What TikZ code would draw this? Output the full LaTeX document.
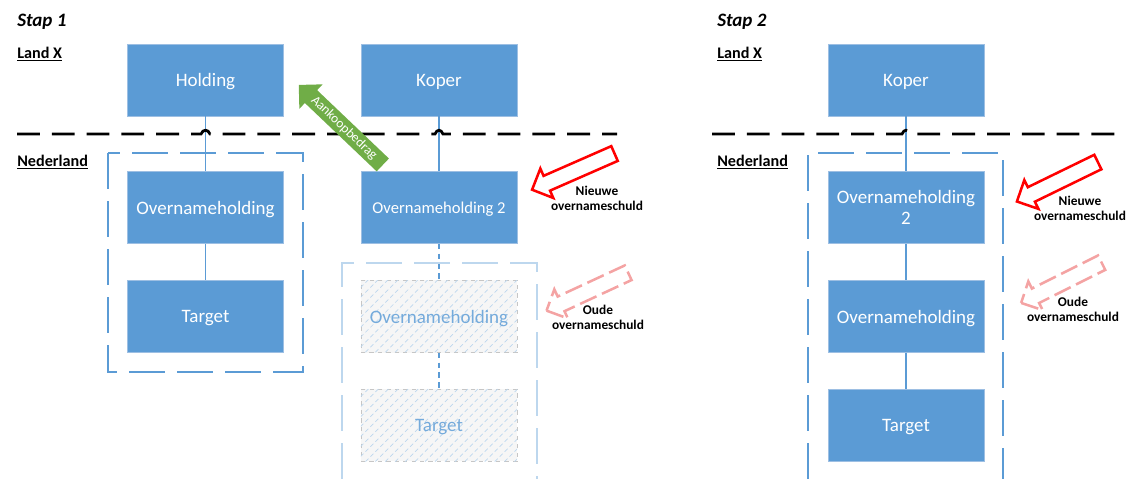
\documentclass[tikz,border=0pt]{standalone}
\usepackage{fontspec}
\setmainfont{Carlito}
\usetikzlibrary{shapes.arrows,patterns.meta}

\definecolor{boxblue}{HTML}{5B9BD5}
\definecolor{boxedge}{HTML}{9DBFE3}
\definecolor{paleblue}{HTML}{BDD7EE}
\definecolor{paygreen}{HTML}{70AD47}
\definecolor{debtred}{HTML}{FF0000}
\definecolor{oldred}{HTML}{F4A3A3}

\tikzset{
  box/.style={draw=boxedge, fill=boxblue, text=white, align=center,
    minimum width=3.9cm, minimum height=1.8cm, inner sep=2pt, text depth=0pt,
    font=\fontsize{13.5}{14.5}\selectfont},
  oldbox/.style={box, draw=gray!45, dashed, fill=gray!7, text=boxblue!85,
    postaction={pattern={Lines[angle=45,distance=5pt,line width=0.5pt]},
      pattern color=paleblue}},
  link/.style={boxblue, line width=0.9pt},
  oldlink/.style={boxblue, line width=0.9pt, dash pattern=on 4pt off 3pt},
  border/.style={black, line width=2pt, dash pattern=on 0.57cm off 0.3cm},
  frame/.style={boxblue, line width=1.5pt, dash pattern=on 0.9cm off 0.3cm},
  oldframe/.style={paleblue, line width=1.5pt, dash pattern=on 0.9cm off 0.3cm},
  heading/.style={anchor=west, inner sep=0pt, font=\fontsize{13.5}{15}\bfseries\itshape},
  country/.style={anchor=west, inner sep=0pt, font=\fontsize{11.5}{13}\bfseries},
  debtlabel/.style={align=center, inner sep=0pt, font=\fontsize{9.5}{10.5}\bfseries},
  payarrow/.style={single arrow, fill=paygreen, text=white, inner sep=2pt,
    single arrow head extend=0.2cm, minimum height=2.9cm,
    font=\fontsize{9.5}{10}\selectfont},
  newdebt/.style={single arrow, draw=debtred, line width=1.8pt, inner xsep=0pt,
    inner ysep=0.17cm, single arrow head extend=0.2cm, minimum height=2.25cm},
  olddebt/.style={newdebt, draw=oldred, dash pattern=on 0.45cm off 0.15cm}
}

\begin{document}
\begin{tikzpicture}[x=0.025cm, y=-0.025cm]
    \useasboundingbox (0,0) rectangle (1132,479);

    % Stap 1
    \node[heading] (stapA) at (17,22) {Stap 1};
    \node[country] (landA) at (17,54) {\underline{Land X}};
    \node[country] (nlA) at (17,162) {\underline{Nederland}};

    \node[box] (holding) at (205.5,80) {Holding};
    \node[box] (koperA) at (439,80) {Koper};
    \node[box] (ovhA) at (205.5,207.5) {Overnameholding};
    \node[box] (targetA) at (205.5,316.5) {Target};
    \node[box, font=\fontsize{11.8}{13}\selectfont] (ovhtwoA) at (439,207.5) {Overnameholding 2};
    \node[oldbox] (oldovh) at (439,316.5) {Overnameholding};
    \node[oldbox] (oldtarget) at (439,425) {Target};

    \draw[link] (holding) -- (ovhA);
    \draw[link] (ovhA) -- (targetA);
    \draw[link] (koperA) -- (ovhtwoA);
    \draw[oldlink] (ovhtwoA) -- (oldovh);
    \draw[oldlink] (oldovh) -- (oldtarget);

    \draw[frame] (108,153) rectangle (303,372);
    \draw[oldframe] (342,479) -- (342,263) -- (537,263) -- (537,479);

    % grens
    \draw[border] (17,134) -- (201,134) .. controls (203,129) and (208,129) .. (210,134)
        -- (435,134) .. controls (437,129) and (441,129) .. (443,134) -- (617,134);

    \node[payarrow, shape border rotate=180, rotate=-43.6] (pay) at (344,128) {Aankoopbedrag};

    \node[newdebt, rotate=203.7] (newA) at (577,170) {};
    \node[debtlabel] (newtextA) at (597,198) {Nieuwe\\overnameschuld};
    \node[olddebt, rotate=204.9] (oldA) at (591,290) {};
    \node[debtlabel] (oldtextA) at (598,317) {Oude\\overnameschuld};

    % Stap 2
    \node[heading] (stapB) at (717,22) {Stap 2};
    \node[country] (landB) at (717,54) {\underline{Land X}};
    \node[country] (nlB) at (717,162) {\underline{Nederland}};

    \node[box] (koperB) at (906,80) {Koper};
    \node[box] (ovhtwoB) at (906,207.5) {Overnameholding\\2};
    \node[box] (ovhB) at (906,316.5) {Overnameholding};
    \node[box] (targetB) at (906,425) {Target};

    \draw[link] (koperB) -- (ovhtwoB);
    \draw[link] (ovhtwoB) -- (ovhB);
    \draw[link] (ovhB) -- (targetB);

    \draw[frame] (808,479) -- (808,153) -- (1003,153) -- (1003,479);

    \draw[border] (712,134) -- (902,134) .. controls (904,129) and (908,129) .. (910,134)
        -- (1117,134);

    \node[newdebt, rotate=206] (newB) at (1061,180) {};
    \node[debtlabel] (newtextB) at (1080,208) {Nieuwe\\overnameschuld};
    \node[olddebt, rotate=206.6] (oldB) at (1065,281) {};
    \node[debtlabel] (oldtextB) at (1073,309) {Oude\\overnameschuld};
\end{tikzpicture}
\end{document}
